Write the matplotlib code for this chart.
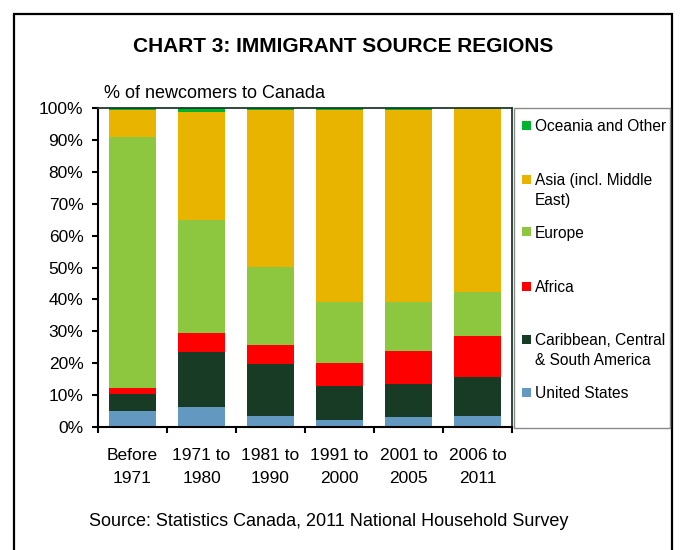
import matplotlib
matplotlib.use("Agg")
import matplotlib.pyplot as plt
import numpy as np
from matplotlib.patches import Rectangle
import matplotlib.ticker as ticker

plt.rcParams['font.family'] = ['Liberation Sans', 'DejaVu Sans']

# data (% of newcomers)
periods = ["Before\n1971", "1971 to\n1980", "1981 to\n1990", "1991 to\n2000", "2001 to\n2005", "2006 to\n2011"]
regions = ["United States", "Caribbean, Central\n& South America", "Africa", "Europe",
           "Asia (incl. Middle\nEast)", "Oceania and Other"]
united_states = [4.9, 6.4, 3.3, 2.1, 3.0, 3.6]
caribbean = [5.3, 17.2, 16.6, 10.9, 10.6, 12.2]
africa = [1.9, 6.0, 5.9, 7.2, 10.3, 12.8]
europe = [78.7, 35.2, 24.5, 19.0, 15.3, 13.8]
asia = [8.5, 33.8, 49.0, 60.1, 60.1, 57.2]
oceania = [0.7, 1.4, 0.7, 0.7, 0.7, 0.4]
colors = ['#6399c0', '#173b24', '#ff0000', '#8dc63f', '#e8b400', '#00b32c']

series = [united_states, caribbean, africa, europe, asia, oceania]

W, H = 681, 550
fig = plt.figure(figsize=(W / 100, H / 100), dpi=100)

def fx(px):
    return px / W

def fy(py):
    return 1 - py / H

# outer frame
fig.add_artist(Rectangle((fx(14), fy(570)), fx(672) - fx(14), fy(14) - fy(570),
                         transform=fig.transFigure, fill=False, lw=1.6, ec='black'))

ax = fig.add_axes([fx(98), fy(427), fx(512) - fx(98), fy(108) - fy(427)])
x = np.arange(len(periods))
bottom = np.zeros(len(periods))
for vals, col, name in zip(series, colors, regions):
    ax.bar(x, vals, width=0.67, bottom=bottom, color=col, label=name, lw=0)
    bottom += np.array(vals)

ax.set_xlim(-0.5, len(periods) - 0.5)
ax.set_ylim(0, 100)
ax.yaxis.set_major_locator(ticker.MultipleLocator(10))
ax.yaxis.set_major_formatter(ticker.FuncFormatter(lambda v, p: f"{v:.0f}%"))
ax.tick_params(axis='y', direction='out', length=4.5, width=1.5, labelsize=12.5, pad=6)

ax.set_xticks(x)
ax.set_xticklabels(periods, fontsize=12.5, linespacing=1.65)
ax.tick_params(axis='x', which='major', length=0, pad=15)
ax.xaxis.set_minor_locator(ticker.FixedLocator(np.arange(-0.5, len(periods), 1.0)))
ax.tick_params(axis='x', which='minor', direction='out', length=4.5, width=1.5)

for s in ['left', 'bottom']:
    ax.spines[s].set_linewidth(1.5)
    ax.spines[s].set_color('black')
for s in ['top', 'right']:
    ax.spines[s].set_linewidth(1.3)
    ax.spines[s].set_color('#1f3a2a')

# legend box drawn by hand to follow the Excel layout
fig.add_artist(Rectangle((fx(514), fy(428)), fx(670) - fx(514), fy(108) - fy(428),
                         transform=fig.transFigure, fill=False, lw=1.0, ec='#8a8a8a'))
legend_y = [392, 339, 286, 232, 179, 125]
for name, col, ly in zip(regions, colors, legend_y):
    fig.add_artist(Rectangle((fx(522), fy(ly + 4.5)), fx(9) - fx(0), fy(0) - fy(9),
                             transform=fig.transFigure, color=col, lw=0))
    fig.text(fx(535), fy(ly - 6), name, ha='left', va='top', fontsize=11.2, linespacing=1.45)

fig.text(fx(343), fy(47), "CHART 3: IMMIGRANT SOURCE REGIONS", ha='center', va='center',
         fontsize=15, fontweight='bold')
fig.text(fx(104), fy(93), "% of newcomers to Canada", ha='left', va='center', fontsize=13)
fig.text(fx(329), fy(522), "Source: Statistics Canada, 2011 National Household Survey",
         ha='center', va='center', fontsize=13)

fig.savefig("out.png", dpi=100)
